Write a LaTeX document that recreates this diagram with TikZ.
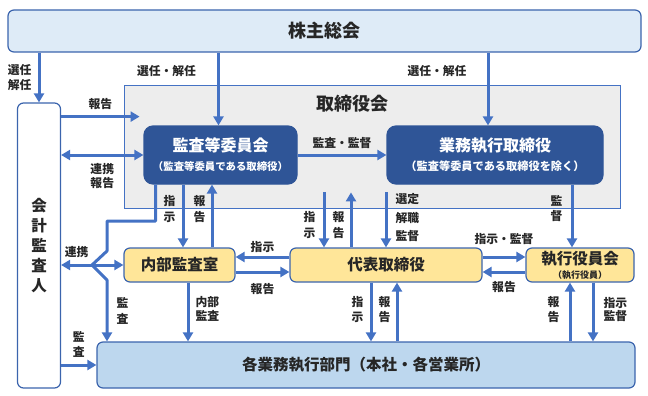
\documentclass[tikz,border=0pt]{standalone}
\usepackage{fontspec}
\setmainfont{Noto Sans CJK JP}
\usepackage{xcolor}
\usetikzlibrary{
    arrows.meta,
    positioning,
    calc
}

\definecolor{arrowblue}{HTML}{4472C4}
\definecolor{boxline}{HTML}{3B64AD}
\definecolor{darkbox}{HTML}{2F5597}
\definecolor{paleblue}{HTML}{DEEBF7}
\definecolor{midblue}{HTML}{BDD7EE}
\definecolor{paleyellow}{HTML}{FFE699}
\definecolor{boardgray}{HTML}{EDEDED}
\definecolor{inktext}{HTML}{262626}

\begin{document}
\begin{tikzpicture}[
    x=1pt, y=-1pt,
    box/.style={
        rectangle,
        rounded corners=6pt,
        draw=boxline,
        line width=1.2pt,
        align=center,
        inner sep=0pt,
        text=inktext,
        font=\fontsize{15.5}{18}\selectfont\bfseries
    },
    darknode/.style={
        box,
        draw=darkbox,
        fill=darkbox,
        text=white,
        rounded corners=9pt,
        font=\fontsize{16}{19}\selectfont\bfseries
    },
    board/.style={
        rectangle,
        draw=arrowblue,
        line width=0.8pt,
        fill=boardgray,
        inner sep=0pt
    },
    arrow/.style={
        -{Triangle[length=9pt,width=10pt]},
        line width=3pt,
        draw=arrowblue
    },
    twoway/.style={
        arrow,
        {Triangle[length=9pt,width=10pt]}-{Triangle[length=9pt,width=10pt]}
    },
    wire/.style={
        line width=3pt,
        draw=arrowblue,
        line join=round
    },
    note/.style={
        font=\fontsize{11.8}{13.5}\selectfont\bfseries,
        align=center,
        text=inktext,
        inner sep=1pt
    },
    vnote/.style={
        note,
        font=\fontsize{11.8}{15.5}\selectfont\bfseries
    }
]
\useasboundingbox (0,0) rectangle (648,396);

% =========================================================
% Top: shareholders and the board
% =========================================================
\node[box, fill=paleblue, minimum width=633pt, minimum height=42pt,
    font=\fontsize{18}{21}\selectfont\bfseries] (sokai) at (324.5,31)
{株主総会};

\node[board, minimum width=496pt, minimum height=123pt] (board) at (372,146.5) {};
\node[font=\fontsize{18}{21}\selectfont\bfseries, text=inktext] (boardtitle) at (352,104)
{取締役会};

\node[darknode, minimum width=153pt, minimum height=58pt] (kansa) at (220.5,155)
{監査等委員会\\[0pt]{\fontsize{10.4}{12}\selectfont （監査等委員である取締役）}};

\node[darknode, minimum width=216pt, minimum height=58pt] (gyomu) at (495,155)
{業務執行取締役\\[0pt]{\fontsize{11.2}{12}\selectfont （監査等委員である取締役を除く）}};

% =========================================================
% Left: external auditor
% =========================================================
\node[box, fill=white, minimum width=43pt, minimum height=285pt,
    font=\fontsize{15.5}{20}\selectfont\bfseries] (kaikei) at (39,245.5)
{会\\計\\監\\査\\人};

% =========================================================
% Middle row: executive side
% =========================================================
\node[box, fill=paleyellow, minimum width=111pt, minimum height=34pt] (naibu) at (179.5,265)
{内部監査室};

\node[box, fill=paleyellow, minimum width=192pt, minimum height=34pt] (daihyo) at (386,265)
{代表取締役};

\node[box, fill=paleyellow, minimum width=108pt, minimum height=34pt] (shikko) at (580,265)
{執行役員会\\[-4pt]{\fontsize{9}{10}\selectfont （執行役員）}};

% =========================================================
% Bottom: business divisions
% =========================================================
\node[box, fill=midblue, minimum width=538pt, minimum height=46pt] (bumon) at (366,365)
{各業務執行部門（本社・各営業所）};

% =========================================================
% Arrows from the shareholders
% =========================================================
\draw[arrow] (sokai.south -| kaikei.north) -- node[left=5pt, vnote] {選任\\解任} (kaikei.north);
\draw[arrow] ([xshift=-2pt]kansa.north |- sokai.south) -- node[pos=0.25, left=20pt, note] {選任・解任} ([xshift=-2pt]kansa.north);
\draw[arrow] ([xshift=-7pt]gyomu.north |- sokai.south) -- node[pos=0.25, left=19pt, note] {選任・解任} ([xshift=-7pt]gyomu.north);

% =========================================================
% Arrows around the board
% =========================================================
\coordinate (boardin) at ($(board.north west)+(16,32)$);
\draw[arrow] (kaikei.east |- boardin) -- node[above=4pt, note] {報告} (boardin);
\draw[twoway] (kansa.west -| kaikei.east) -- node[below=6pt, note] {連携\\報告} (kansa.west);
\draw[arrow] (kansa.east) -- node[above=4pt, note] {監査・監督} (gyomu.west);

\draw[arrow] ([xshift=-37.5pt]kansa.south) -- node[pos=0.39, left=5pt, vnote] {指\\示} ([xshift=-37.5pt]kansa.south |- naibu.north);
\draw[arrow] ([xshift=-8.5pt]kansa.south |- naibu.north) -- node[pos=0.61, left=4pt, vnote] {報\\告} ([xshift=-8.5pt]kansa.south);

\draw[arrow] ([xshift=-62pt,yshift=55pt]daihyo.north) -- node[pos=0.59, left=6pt, vnote] {指\\示} ([xshift=-62pt]daihyo.north);
\draw[arrow] ([xshift=-35pt]daihyo.north) -- node[pos=0.41, left=4pt, vnote] {報\\告} ([xshift=-35pt,yshift=55pt]daihyo.north);
\draw[arrow] ([yshift=55pt]daihyo.north) -- node[pos=0.46, right=7pt, note, font=\fontsize{11.8}{18.5}\selectfont\bfseries] {選定\\解職\\監督} (daihyo.north);

\draw[arrow] ([xshift=-8pt]shikko.north |- gyomu.south) -- node[pos=0.38, left=7pt, vnote] {監\\督} ([xshift=-8pt]shikko.north);

% =========================================================
% Liaison between the auditors
% =========================================================
\coordinate (renkei) at (92,265);
\coordinate (kbend) at (107,221);
\draw[wire] ([xshift=-65pt]kansa.south) |- (kbend) -- ++(0,30) -- (renkei);
\draw[arrow] (renkei) -- node[above=5pt, note] {連携} (renkei -| kaikei.east);
\draw[arrow] (renkei) -- (renkei -| naibu.west);
\draw[arrow, line join=round] (renkei) -- ++(15,15) -- node[right=7pt, vnote] {監\\査} (kbend |- bumon.north);

% =========================================================
% Middle row arrows
% =========================================================
\draw[arrow] ([yshift=8pt]daihyo.west) -- node[above=2pt, note] {指示} ([yshift=8pt]daihyo.west -| naibu.east);
\draw[arrow] ([yshift=-7pt]naibu.east) -- node[below=9pt, note] {報告} ([yshift=-7pt]naibu.east -| daihyo.west);
\draw[arrow] ([yshift=8pt]daihyo.east) -- node[above=10pt, note] {指示・監督} ([yshift=8pt]daihyo.east -| shikko.west);
\draw[arrow] ([yshift=-7pt]shikko.west) -- node[below=7pt, note] {報告} ([yshift=-7pt]shikko.west -| daihyo.east);

% =========================================================
% Arrows to the business divisions
% =========================================================
\draw[arrow] (bumon.west -| kaikei.east) -- node[above=5pt, vnote] {監\\査} (bumon.west);
\draw[arrow] ([xshift=8.5pt]naibu.south) -- node[pos=0.45, right=5pt, note] {内部\\監査} ([xshift=8.5pt]naibu.south |- bumon.north);
\draw[arrow] ([xshift=-15pt]daihyo.south) -- node[pos=0.46, left=5pt, vnote] {指\\示} ([xshift=-15pt]daihyo.south |- bumon.north);
\draw[arrow] ([xshift=11pt]daihyo.south |- bumon.north) -- node[pos=0.54, left=4pt, vnote] {報\\告} ([xshift=11pt]daihyo.south);
\draw[arrow] ([xshift=-10pt]shikko.south |- bumon.north) -- node[pos=0.54, left=8pt, vnote] {報\\告} ([xshift=-10pt]shikko.south);
\draw[arrow] ([xshift=13pt]shikko.south) -- node[pos=0.46, right=8pt, note] {指示\\監督} ([xshift=13pt]shikko.south |- bumon.north);

\end{tikzpicture}
\end{document}
